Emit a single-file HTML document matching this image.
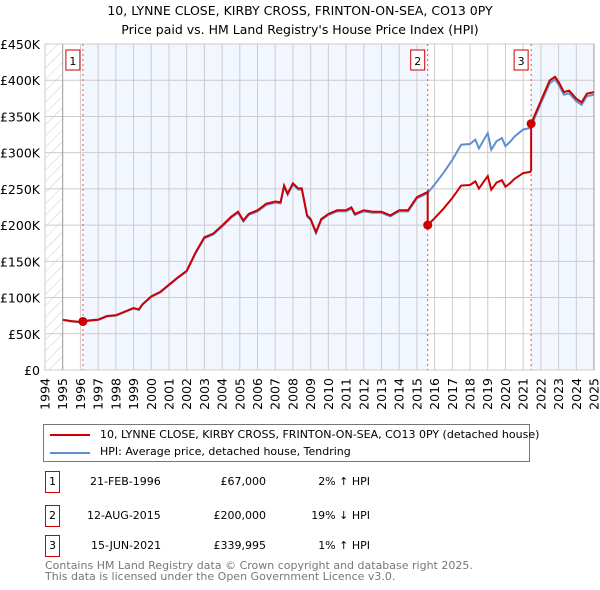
<!DOCTYPE html>
<html><head><meta charset="utf-8">
<style>
body{margin:0;background:#fff;font-family:"DejaVu Sans","Liberation Sans",sans-serif;}
#wrap{position:relative;width:600px;height:590px;overflow:hidden;}
.t{position:absolute;font-size:11px;color:#000;white-space:nowrap;}
.nb{position:absolute;width:13px;height:20px;border:1px solid #cc0000;font-size:11px;text-align:center;line-height:20px;}
</style></head>
<body><div id="wrap">
<svg id="svg" width="600" height="420" style="position:absolute;left:0;top:0">
<defs><pattern id="hatch" width="8" height="8" patternUnits="userSpaceOnUse" patternTransform="rotate(45)"><line x1="0" y1="0" x2="0" y2="8" stroke="#ccc" stroke-width="1"/></pattern></defs>
<text x="300" y="15" text-anchor="middle" font-size="12.5">10, LYNNE CLOSE, KIRBY CROSS, FRINTON-ON-SEA, CO13 0PY</text>
<text x="300" y="34" text-anchor="middle" font-size="12.5">Price paid vs. HM Land Registry's House Price Index (HPI)</text>
</svg>
<div style="position:absolute;left:43px;top:424px;width:485px;height:36px;border:1px solid #777;">
 <div style="position:absolute;left:6px;top:9px;width:40px;height:2px;background:#cc0000"></div>
 <div class="t" style="left:56px;top:3px">10, LYNNE CLOSE, KIRBY CROSS, FRINTON-ON-SEA, CO13 0PY (detached house)</div>
 <div style="position:absolute;left:6px;top:27px;width:40px;height:2px;background:#6090d0"></div>
 <div class="t" style="left:56px;top:20px">HPI: Average price, detached house, Tendring</div>
</div>
<div>
 <div class="nb" style="left:45px;top:471px">1</div>
 <div class="t" style="left:90px;top:475px">21-FEB-1996</div>
 <div class="t" style="left:196px;top:475px;width:70px;text-align:right">£67,000</div>
 <div class="t" style="left:300px;top:475px;width:70px;text-align:right">2% ↑ HPI</div>
 <div class="nb" style="left:45px;top:505px">2</div>
 <div class="t" style="left:87px;top:509px">12-AUG-2015</div>
 <div class="t" style="left:190px;top:509px;width:76px;text-align:right">£200,000</div>
 <div class="t" style="left:300px;top:509px;width:70px;text-align:right">19% ↓ HPI</div>
 <div class="nb" style="left:45px;top:535px">3</div>
 <div class="t" style="left:91px;top:539px">15-JUN-2021</div>
 <div class="t" style="left:190px;top:539px;width:76px;text-align:right">£339,995</div>
 <div class="t" style="left:300px;top:539px;width:70px;text-align:right">1% ↑ HPI</div>
</div>
<div class="t" style="left:45px;top:560px;color:#777;line-height:11px">Contains HM Land Registry data © Crown copyright and database right 2025.<br>This data is licensed under the Open Government Licence v3.0.</div>
</div>
<script>
const hpiYears=[1995,1995.5,1996,1996.5,1997,1997.5,1998,1998.5,1999,1999.3,1999.5,2000,2000.5,2001,2001.5,2002,2002.5,2003,2003.5,2004,2004.5,2004.9,2005.2,2005.5,2006,2006.5,2007,2007.3,2007.5,2007.7,2008,2008.3,2008.5,2008.8,2009,2009.3,2009.6,2010,2010.5,2011,2011.3,2011.5,2012,2012.5,2013,2013.5,2014,2014.5,2015,2015.6,2016,2016.5,2017,2017.5,2018,2018.3,2018.5,2019,2019.2,2019.5,2019.8,2020,2020.3,2020.5,2021,2021.4,2022,2022.5,2022.8,2023,2023.3,2023.6,2024,2024.3,2024.6,2025];
const hpiValues=[69,67,66,68,69,74,75,80,85,83,90,101,107,117,127,136,161,182,187,198,210,217,205,214,219,228,231,230,253,242,256,249,249,212,207,189,207,214,219,219,223,214,219,217,217,212,219,219,237,244,256,272,290,311,312,318,306,327,304,316,320,309,316,322,332,334,368,396,401,394,380,382,371,366,378,380];
const saleYears=[1996.14,2015.61,2021.45];
const salePrices=[67,200,339.995];
const yTicks=[0,50,100,150,200,250,300,350,400,450];
const yTickLabels=["£0","£50K","£100K","£150K","£200K","£250K","£300K","£350K","£400K","£450K"];
const xTicks=[1994,1995,1996,1997,1998,1999,2000,2001,2002,2003,2004,2005,2006,2007,2008,2009,2010,2011,2012,2013,2014,2015,2016,2017,2018,2019,2020,2021,2022,2023,2024,2025];

const svg=document.getElementById('svg');const NS='http://www.w3.org/2000/svg';
const X0=45,X1=594,Y0=370,Y1=44;
const xs=y=>X0+(y-1994)/(2025-1994)*(X1-X0);
const ys=v=>Y0-v/450*(Y0-Y1);
function mk(t,a,p){const e=document.createElementNS(NS,t);for(const k in a)e.setAttribute(k,a[k]);(p||svg).appendChild(e);return e;}
function hpiAt(t){for(let i=0;i<hpiYears.length-1;i++){if(t<=hpiYears[i+1]){const f=(t-hpiYears[i])/(hpiYears[i+1]-hpiYears[i]);return hpiValues[i]+f*(hpiValues[i+1]-hpiValues[i]);}}return hpiValues[hpiValues.length-1];}
let r=mk('rect',{x:xs(1994),y:Y1,width:xs(1995)-xs(1994),height:Y0-Y1,fill:'url(#hatch)'});


const bandStarts=[saleYears[0],saleYears[2]],bandEnds=[saleYears[1],2025];
bandStarts.forEach((s,i)=>{const b=mk('rect',{x:xs(s),y:Y1,width:xs(bandEnds[i])-xs(s),height:Y0-Y1,fill:'#f2f6fe'});

});
yTicks.forEach((v,i)=>{const l=mk('line',{x1:X0,x2:X1,y1:ys(v),y2:ys(v),stroke:'#ccc'});


const t=mk('text',{x:40,y:ys(v)+5,'text-anchor':'end','font-size':12.5});t.textContent=yTickLabels[i];

});
xTicks.forEach(y=>{const l=mk('line',{x1:xs(y),x2:xs(y),y1:Y1,y2:Y0,stroke:y==1995?'#999':'#ccc'});


const t=mk('text',{x:0,y:0,'text-anchor':'end','font-size':12.5,transform:`translate(${xs(y)+4.5},${378}) rotate(-90)`});t.textContent=y;

});
let fr=mk('rect',{x:X0,y:Y1,width:X1-X0,height:Y0-Y1,fill:'none',stroke:'#ccc'});


mk('line',{x1:X1,x2:X1,y1:Y1,y2:Y0,stroke:'#999'});
saleYears.forEach((s,i)=>{const l=mk('line',{x1:xs(s),x2:xs(s),y1:Y1,y2:Y0,stroke:'#e05050','stroke-dasharray':'2,3','stroke-width':1});


const b=mk('rect',{x:xs(s)-17,y:50,width:14,height:20,fill:'#fff',stroke:'#cc0000'});


const t=mk('text',{x:xs(s)-10,y:65,'text-anchor':'middle','font-size':11});t.textContent=i+1;

});
let hp=mk('polyline',{points:hpiYears.map((y,i)=>xs(y)+','+ys(hpiValues[i])).join(' '),fill:'none',stroke:'#6090d0','stroke-width':2});


const ratios=saleYears.map((s,i)=>salePrices[i]/hpiAt(s));
let pts=[];
hpiYears.forEach((y,i)=>{let k=0;for(let j=0;j<saleYears.length;j++)if(y>=saleYears[j])k=j;
saleYears.forEach((s,j)=>{if(j>0&&hpiYears[i-1]<s&&y>=s){pts.push([s,hpiAt(s)*ratios[j-1]]);pts.push([s,salePrices[j]]);}});
pts.push([y,hpiValues[i]*ratios[k]]);});
let pl=mk('polyline',{points:pts.map(p=>xs(p[0])+','+ys(p[1])).join(' '),fill:'none',stroke:'#cc0000','stroke-width':2});


saleYears.forEach((s,i)=>{const c=mk('circle',{cx:xs(s),cy:ys(salePrices[i]),r:4.5,fill:'#cc0000'});

});
</script>
</body></html>
